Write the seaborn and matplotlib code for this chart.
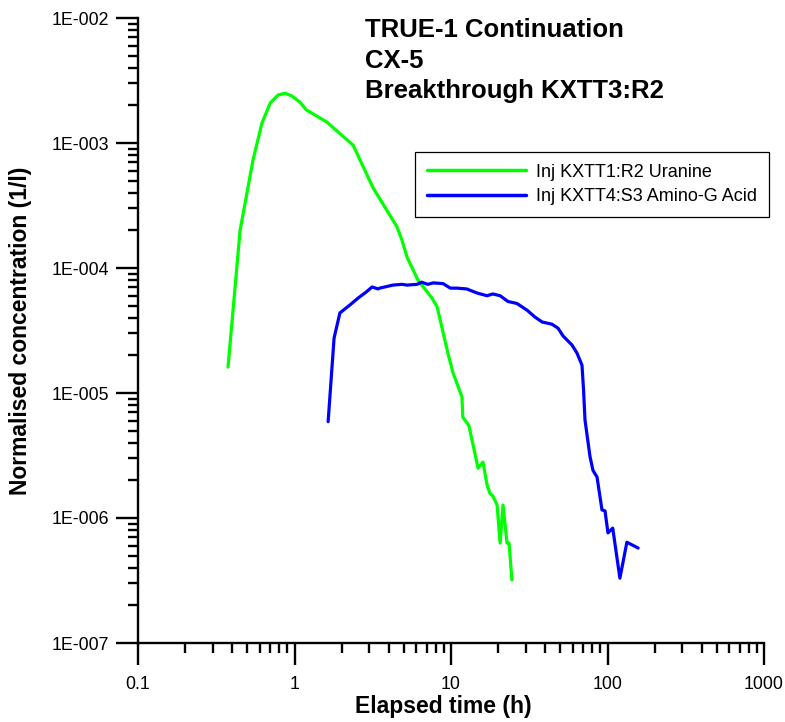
import numpy as np
import pandas as pd
import matplotlib
matplotlib.use("Agg")
import matplotlib.pyplot as plt
from matplotlib.ticker import LogLocator, FuncFormatter, NullFormatter
from matplotlib.lines import Line2D
import seaborn as sns

# ---- data ----
uranine_time = [0.376, 0.449, 0.543, 0.62, 0.70, 0.785, 0.87, 0.96, 1.08, 1.19, 1.61, 2.37,
                3.18, 4.52, 4.86, 5.24, 6.15, 7.56, 8.15, 9.55, 10.3, 11.75, 11.9, 13.0,
                14.9, 16.0, 17.0, 17.7, 18.5, 19.7, 20.6, 21.5, 22.8, 23.5, 24.5]
uranine_conc = [1.61e-5, 2.0e-4, 7.3e-4, 1.45e-3, 2.09e-3, 2.42e-3, 2.5e-3, 2.38e-3, 2.13e-3,
                1.84e-3, 1.47e-3, 9.6e-4, 4.37e-4, 2.13e-4, 1.67e-4, 1.22e-4, 8.0e-5, 5.75e-5,
                4.9e-5, 2.09e-5, 1.45e-5, 9.3e-6, 6.4e-6, 5.5e-6, 2.5e-6, 2.8e-6, 1.84e-6,
                1.58e-6, 1.5e-6, 1.27e-6, 6.3e-7, 1.27e-6, 6.3e-7, 6.3e-7, 3.2e-7]

amino_time = [1.64, 1.79, 1.95, 2.26, 2.55, 2.86, 3.13, 3.42, 3.5, 4.26, 4.86, 5.24, 6.07,
              6.5, 7.1, 7.7, 8.9, 9.9, 10.9, 12.6, 14.7, 17.0, 18.5, 20.6, 23.1, 26.4, 30.6,
              34.4, 38.2, 44.2, 48.3, 52.0, 59.3, 63.8, 68.7, 70.3, 71.8, 77.3, 80.8, 85.7,
              92.2, 96.4, 100.7, 108.0, 120.0, 133.0, 157.0]
amino_conc = [5.9e-6, 2.75e-5, 4.37e-5, 5.06e-5, 5.75e-5, 6.4e-5, 7.05e-5, 6.8e-5, 6.9e-5,
              7.3e-5, 7.4e-5, 7.3e-5, 7.4e-5, 7.7e-5, 7.4e-5, 7.6e-5, 7.5e-5, 6.9e-5, 6.9e-5,
              6.8e-5, 6.3e-5, 6.0e-5, 6.2e-5, 6.0e-5, 5.4e-5, 5.2e-5, 4.6e-5, 4.05e-5, 3.7e-5,
              3.55e-5, 3.3e-5, 2.86e-5, 2.42e-5, 2.09e-5, 1.67e-5, 1.06e-5, 6.1e-6, 3.1e-6,
              2.4e-6, 2.13e-6, 1.16e-6, 1.14e-6, 7.6e-7, 8.3e-7, 3.3e-7, 6.4e-7, 5.75e-7]

series_names = ["Inj KXTT1:R2 Uranine", "Inj KXTT4:S3 Amino-G Acid"]
series_colors = ["#00ff00", "#0000ff"]
title_lines = ["TRUE-1 Continuation", "CX-5", "Breakthrough KXTT3:R2"]
x_label = "Elapsed time (h)"
y_label = "Normalised concentration (1/l)"

df = pd.concat([
    pd.DataFrame({"time": uranine_time, "conc": uranine_conc, "series": series_names[0]}),
    pd.DataFrame({"time": amino_time, "conc": amino_conc, "series": series_names[1]}),
], ignore_index=True)

sns.set_style("white")
plt.rcParams["font.family"] = ["Liberation Sans", "DejaVu Sans"]
plt.rcParams["text.color"] = "black"
plt.rcParams["axes.labelcolor"] = "black"
plt.rcParams["xtick.color"] = "black"
plt.rcParams["ytick.color"] = "black"

fig = plt.figure(figsize=(7.85, 7.22), dpi=100)
ax = fig.add_axes([138 / 785, 1 - 643 / 722, 626 / 785, 625 / 722])

sns.lineplot(data=df, x="time", y="conc", hue="series", palette=dict(zip(series_names, series_colors)),
             sort=False, estimator=None, linewidth=2.3, ax=ax, legend=False)

ax.set_xscale("log")
ax.set_yscale("log")
ax.set_xlim(0.1, 1000)
ax.set_ylim(1e-7, 1e-2)

for s in ["top", "right"]:
    ax.spines[s].set_visible(False)
for s in ["left", "bottom"]:
    ax.spines[s].set_linewidth(1.7)
    ax.spines[s].set_color("black")

ax.xaxis.set_major_locator(LogLocator(base=10, numticks=10))
ax.yaxis.set_major_locator(LogLocator(base=10, numticks=10))
ax.xaxis.set_minor_locator(LogLocator(base=10, subs=np.arange(2, 10), numticks=20))
ax.yaxis.set_minor_locator(LogLocator(base=10, subs=np.arange(2, 10), numticks=20))
ax.xaxis.set_minor_formatter(NullFormatter())
ax.yaxis.set_minor_formatter(NullFormatter())


def xfmt(v, pos):
    return f"{v:g}"


def yfmt(v, pos):
    k = int(round(np.log10(v)))
    sign = "-" if k < 0 else ""
    return f"1E{sign}{abs(k):03d}"


ax.xaxis.set_major_formatter(FuncFormatter(xfmt))
ax.yaxis.set_major_formatter(FuncFormatter(yfmt))

ax.tick_params(axis="both", which="major", direction="out", length=15.5, width=1.7,
               labelsize=12.8, color="black", labelcolor="black")
ax.tick_params(axis="both", which="minor", direction="out", length=7.5, width=1.7, color="black")
ax.tick_params(axis="x", which="major", pad=8)
ax.tick_params(axis="y", which="major", pad=5)
ax.tick_params(bottom=True, left=True, which="both")

ax.set_xlabel(x_label, fontsize=16.5, fontweight="bold", color="black")
ax.set_ylabel(y_label, fontsize=16.5, fontweight="bold", color="black")
ax.xaxis.set_label_coords(0.488, -0.083)
ax.xaxis.label.set_va("top")
ax.yaxis.set_label_coords(-0.169, 0.5)

# title block
baselines = [37, 68, 98]
for line, b in zip(title_lines, baselines):
    fig.text(365 / 785, 1 - b / 722, line, fontsize=18.5, fontweight="bold", ha="left",
             va="baseline", color="black")

# legend
handles = [Line2D([0], [0], color=c, lw=2.5) for c in series_colors]
leg = ax.legend(handles, series_names, loc="upper left", bbox_to_anchor=(0.4425, 0.7856),
                fontsize=13, frameon=True, fancybox=False, framealpha=1, edgecolor="black",
                handlelength=5.5, handletextpad=0.55, borderpad=0.65, labelspacing=0.4,
                borderaxespad=0)
leg.get_frame().set_linewidth(0.9)
leg.set_clip_on(False)
for t in leg.get_texts():
    t.set_color("black")

fig.savefig("out.png", dpi=100)
